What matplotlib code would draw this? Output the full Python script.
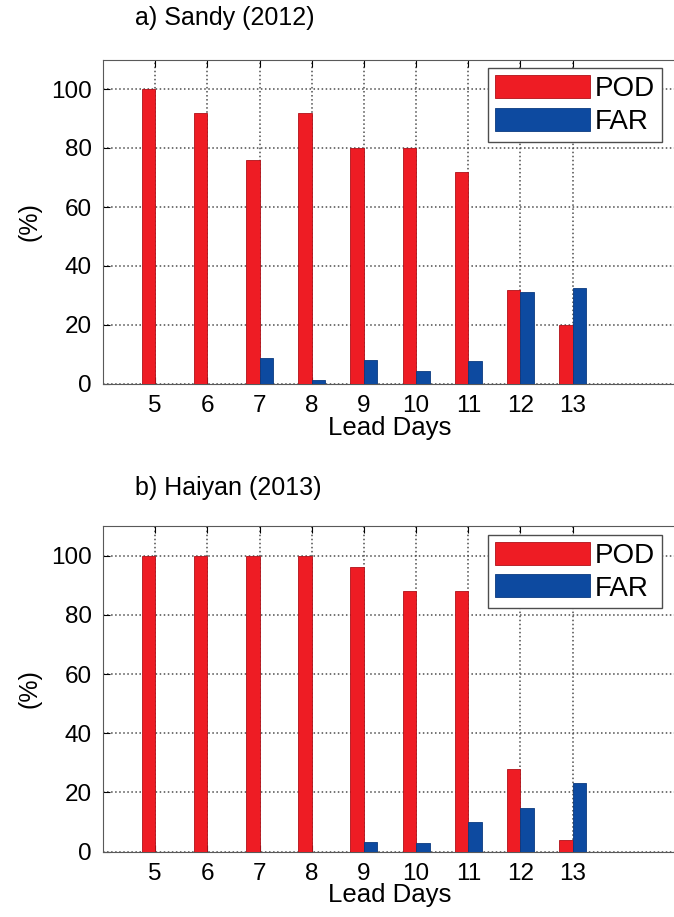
import numpy as np
import matplotlib.pyplot as plt

plt.rcParams['font.family'] = ['Liberation Sans', 'DejaVu Sans']

# lead days
dias = [5, 6, 7, 8, 9, 10, 11, 12, 13]
# a) Sandy (2012)
pod_sandy = [100, 92, 76, 92, 80, 80, 72, 32, 20]
far_sandy = [0, 0, 8.8, 1.4, 8.3, 4.5, 7.8, 31.2, 32.5]
# b) Haiyan (2013)
pod_haiyan = [100, 100, 100, 100, 96, 88, 88, 28, 4]
far_haiyan = [0, 0, 0, 0, 3.4, 2.8, 9.9, 14.9, 23.1]

vermelho = '#ee1c24'
azul = '#0d4aa0'

fig = plt.figure(figsize=(6.74, 9.17), dpi=100)

def painel(pos, pod, far, titulo, ytitulo):
    ax = fig.add_axes(pos)
    x = np.array(dias)
    ax.bar(x - 0.13, pod, width=0.26, color=vermelho, edgecolor='#b01018', linewidth=0.6, label='POD', zorder=3)
    ax.bar(x + 0.13, far, width=0.26, color=azul, edgecolor='#0a3a80', linewidth=0.6, label='FAR', zorder=3)
    ax.set_xlim(4, 15)
    ax.set_ylim(0, 110)
    ax.set_xticks(dias)
    ax.set_yticks([0, 20, 40, 60, 80, 100])
    ax.grid(True, linestyle=':', color='0.3', linewidth=1.1, zorder=0)
    ax.tick_params(direction='in', top=True, right=False, length=5, labelsize=17.5, pad=8)
    for s in ax.spines.values():
        s.set_color('0.35')
    ax.spines['right'].set_visible(False)
    ax.set_xlabel('Lead Days', fontsize=18.5, labelpad=-1)
    ax.set_ylabel('(%)', fontsize=18, labelpad=7)
    leg = ax.legend(loc='upper left', bbox_to_anchor=(0.671, 0.973), fontsize=20,
                    handlelength=3.4, handleheight=0.9, labelspacing=0.2,
                    handletextpad=0.2, borderpad=0.25, borderaxespad=0,
                    fancybox=False, framealpha=1, edgecolor='0.3')
    leg.get_frame().set_linewidth(1.0)
    fig.text(135 / 674, 1 - ytitulo / 917, titulo, fontsize=18, va='center', ha='left')
    return ax

painel([103 / 674, 1 - 384 / 917, 574 / 674, 324.5 / 917], pod_sandy, far_sandy, 'a) Sandy (2012)', 18)
painel([103 / 674, 1 - 851.7 / 917, 574 / 674, 325.7 / 917], pod_haiyan, far_haiyan, 'b) Haiyan (2013)', 488)

plt.savefig('out.png', dpi=100)
